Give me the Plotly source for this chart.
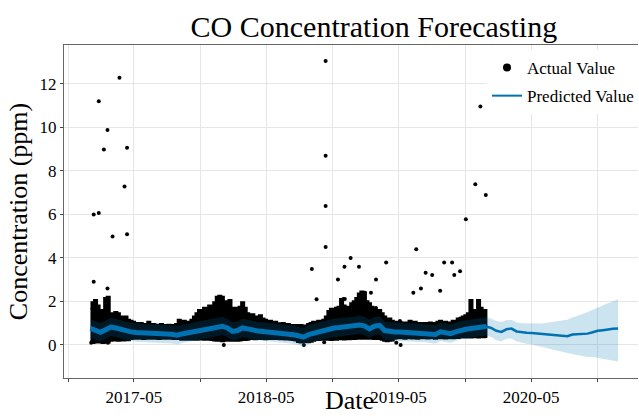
import pandas as pd
import plotly.graph_objects as go

# ---------------- data ----------------
# weekly envelope of the dense hourly observations (ppm)
week_start = "2017-01-01"
cloud_upper = [
    1.7, 1.95, 2.05, 1.8, 1.55, 1.6, 2.15, 2.2, 1.45, 1.35,
    1.5, 1.45, 1.3, 1.25, 1.3, 1.15, 1.1, 1.05, 1.0, 0.95,
    1.0, 0.92, 0.95, 1.05, 0.9, 0.95, 0.92, 0.88, 0.95, 0.9,
    0.88, 0.92, 0.9, 0.87, 0.95, 1.15, 1.05, 1.1, 1.0, 1.05,
    1.15, 1.3, 1.45, 1.6, 1.55, 1.7, 1.65, 1.8, 1.75, 1.95,
    2.2, 2.25, 2.2, 1.85, 2.0, 2.05, 1.65, 1.7, 1.6, 1.75,
    1.95, 1.7, 1.45, 1.35, 1.4, 1.3, 1.25, 1.35, 1.2, 1.15,
    1.05, 1.1, 1.0, 1.05, 0.98, 0.95, 1.0, 0.92, 0.95, 0.9,
    0.88, 0.9, 0.85, 0.9, 0.82, 0.88, 0.95, 1.0, 1.05, 1.0,
    1.1, 1.05, 1.15, 1.3, 1.55, 1.65, 1.6, 1.7, 1.75, 2.1,
    1.8, 1.7, 1.75, 1.9, 2.0, 2.15, 2.35, 2.45, 2.3, 2.0,
    1.9, 1.75, 1.65, 1.55, 1.6, 1.45, 1.3, 1.15, 1.2, 1.1,
    1.05, 1.0, 1.05, 1.0, 1.02, 0.98, 1.1, 1.0, 1.05, 0.98,
    1.0, 0.95, 1.0, 0.97, 1.02, 0.95, 1.0, 1.05, 1.1, 1.0,
    1.05, 1.02, 1.0, 1.1, 1.05, 1.2, 1.15, 1.3, 1.35, 1.45,
    2.05, 1.6, 1.5, 2.05, 1.7, 1.55, 1.6,
]
cloud_lower = [
    0.15, 0.1, 0.2, 0.12, 0.18, 0.1, 0.15, 0.12, 0.2,
    0.22, 0.25, 0.2, 0.24, 0.22, 0.25, 0.23,
    0.28, 0.3, 0.3, 0.32, 0.3, 0.28, 0.3, 0.3, 0.32, 0.3,
    0.3, 0.28, 0.3, 0.3, 0.3, 0.32, 0.3, 0.28, 0.3, 0.28,
    0.25, 0.27, 0.25, 0.26, 0.25, 0.27, 0.25, 0.28, 0.26, 0.25,
    0.27, 0.25, 0.24, 0.22,
    0.2, 0.22, 0.18, 0.2, 0.22, 0.2, 0.2, 0.22, 0.2, 0.22,
    0.25, 0.24, 0.25,
    0.28, 0.3, 0.27, 0.28, 0.3, 0.28, 0.27, 0.3, 0.28, 0.29,
    0.28, 0.3, 0.27, 0.28, 0.26, 0.28, 0.25, 0.24, 0.22,
    0.15, 0.12, 0.15, 0.18, 0.14, 0.16, 0.2,
    0.25, 0.24, 0.26, 0.25, 0.27, 0.25, 0.24, 0.26, 0.25, 0.27,
    0.28, 0.26, 0.28, 0.27, 0.29, 0.28,
    0.3, 0.31, 0.3, 0.32, 0.3, 0.31, 0.3, 0.29, 0.3, 0.28, 0.25,
    0.2, 0.18, 0.2, 0.22,
    0.3, 0.32, 0.33, 0.32, 0.3, 0.32, 0.33, 0.31, 0.32, 0.3,
    0.32, 0.33, 0.32, 0.31, 0.33, 0.32, 0.3, 0.32, 0.33, 0.32,
    0.31, 0.32, 0.33, 0.32, 0.34, 0.33,
    0.35, 0.36, 0.35, 0.37, 0.35, 0.36, 0.38, 0.35, 0.36, 0.37, 0.38,
]

# isolated high / low readings
outlier_dates = [
    "2017-01-10", "2017-01-10", "2017-01-24", "2017-01-24", "2017-02-07",
    "2017-02-17", "2017-02-17", "2017-03-03", "2017-03-22", "2017-04-05",
    "2017-04-12", "2017-04-12", "2017-01-03", "2017-02-18", "2018-01-04",
    "2018-08-13", "2018-09-04", "2018-09-17", "2018-10-12", "2018-10-12",
    "2018-10-12", "2018-10-12", "2018-10-08", "2018-11-15", "2018-11-30",
    "2018-12-03", "2018-12-04", "2018-12-20", "2019-01-12", "2019-01-29",
    "2019-02-14", "2019-02-28", "2019-02-28", "2019-03-28", "2019-04-25",
    "2019-05-05", "2019-05-07", "2019-06-11", "2019-06-19", "2019-07-02",
    "2019-07-15", "2019-08-02", "2019-08-24", "2019-09-04", "2019-09-26",
    "2019-10-02", "2019-10-18", "2019-10-18", "2019-11-03", "2019-11-29",
    "2019-12-13", "2019-12-28",
]
outlier_values = [
    6.0, 2.9, 6.07, 11.2, 8.98,
    9.88, 2.6, 4.99, 12.28, 7.29,
    9.07, 5.09, 0.1, 0.1, 0.0,
    0.0, 3.49, 2.1, 13.06, 8.7,
    6.39, 4.5, 0.12, 3.01, 2.11,
    3.59, 2.11, 4.0, 3.59, 2.4,
    2.4, 3.01, 1.7, 3.79, 0.1,
    1.1, 0.0, 2.4, 4.4, 2.6,
    3.32, 3.21, 2.49, 3.79, 3.79,
    3.21, 3.39, 1.22, 5.78, 7.39,
    10.96, 6.89,
]

# Prophet-style forecast on a 14-day grid (history + 1-year horizon)
grid_start = "2017-01-01"
history_points = 79
yhat = [
    0.76, 0.65, 0.58, 0.70, 0.82, 0.78, 0.70, 0.64, 0.60, 0.57,
    0.55, 0.53, 0.52, 0.50, 0.50, 0.50, 0.49, 0.45, 0.50, 0.55,
    0.60, 0.66, 0.70, 0.74, 0.78, 0.82, 0.86, 0.78, 0.62, 0.66,
    0.78, 0.74, 0.68, 0.64, 0.62, 0.60, 0.57, 0.54, 0.52, 0.50,
    0.47, 0.42, 0.36, 0.48, 0.55, 0.60, 0.68, 0.74, 0.78, 0.80,
    0.83, 0.86, 0.88, 0.92, 0.88, 0.74, 0.86, 0.90, 0.66, 0.62,
    0.60, 0.60, 0.58, 0.57, 0.57, 0.55, 0.54, 0.52, 0.48, 0.60,
    0.55, 0.52, 0.60, 0.68, 0.72, 0.76, 0.79, 0.82, 0.85,
    0.78, 0.65, 0.60, 0.72, 0.75, 0.62, 0.58, 0.56, 0.55, 0.53,
    0.50, 0.48, 0.45, 0.44, 0.42, 0.40, 0.48, 0.50, 0.50, 0.52,
    0.58, 0.65, 0.68, 0.72, 0.74, 0.76,
]
yhat_upper = [
    1.18, 1.08, 1.00, 1.12, 1.25, 1.20, 1.12, 1.06, 1.02, 0.99,
    0.97, 0.95, 0.94, 0.92, 0.93, 0.92, 0.91, 0.87, 0.92, 0.97,
    1.02, 1.08, 1.12, 1.16, 1.20, 1.24, 1.28, 1.20, 1.04, 1.08,
    1.20, 1.16, 1.10, 1.06, 1.04, 1.02, 0.99, 0.96, 0.94, 0.92,
    0.89, 0.84, 0.78, 0.90, 0.97, 1.02, 1.10, 1.16, 1.20, 1.22,
    1.25, 1.28, 1.30, 1.34, 1.30, 1.16, 1.28, 1.32, 1.08, 1.04,
    1.02, 1.02, 1.00, 0.99, 0.99, 0.97, 0.96, 0.94, 0.90, 1.02,
    0.97, 0.94, 1.02, 1.10, 1.14, 1.18, 1.21, 1.24, 1.27,
    1.20, 1.10, 1.05, 1.14, 1.15, 1.03, 1.00, 0.99, 0.99, 0.98,
    0.99, 1.02, 1.05, 1.08, 1.12, 1.16, 1.26, 1.33, 1.42, 1.52,
    1.62, 1.74, 1.82, 1.92, 2.00, 2.10,
]
yhat_lower = [
    0.34, 0.23, 0.16, 0.28, 0.40, 0.36, 0.28, 0.22, 0.18, 0.15,
    0.13, 0.11, 0.10, 0.08, 0.08, 0.08, 0.07, 0.03, 0.08, 0.13,
    0.18, 0.24, 0.28, 0.32, 0.36, 0.40, 0.44, 0.36, 0.20, 0.24,
    0.36, 0.32, 0.26, 0.22, 0.20, 0.18, 0.15, 0.12, 0.10, 0.08,
    0.05, 0.00, -0.06, 0.06, 0.13, 0.18, 0.26, 0.32, 0.36, 0.38,
    0.41, 0.44, 0.46, 0.50, 0.46, 0.32, 0.44, 0.48, 0.24, 0.20,
    0.18, 0.18, 0.16, 0.15, 0.15, 0.13, 0.12, 0.10, 0.06, 0.18,
    0.13, 0.10, 0.18, 0.26, 0.30, 0.34, 0.37, 0.40, 0.43,
    0.36, 0.22, 0.16, 0.28, 0.30, 0.16, 0.10, 0.06, 0.02, -0.02,
    -0.08, -0.13, -0.19, -0.25, -0.31, -0.37, -0.40, -0.46, -0.51, -0.55,
    -0.56, -0.58, -0.62, -0.66, -0.72, -0.76,
]

x_major = ["2017-05-01", "2018-05-01", "2019-05-01", "2020-05-01"]
x_minor = ["2016-11-01", "2017-11-01", "2018-11-01", "2019-11-01", "2020-11-01"]
x_major_labels = ["2017-05", "2018-05", "2019-05", "2020-05"]
y_ticks = [0, 2, 4, 6, 8, 10, 12]

# ---------------- build ----------------
weeks = list(pd.date_range(week_start, periods=len(cloud_upper), freq="7D"))
grid = list(pd.date_range(grid_start, periods=len(yhat), freq="14D"))
hist_grid = grid[:history_points]
fc_grid = grid[history_points - 1:]

BLUE = "#0072B2"
FONT = "Liberation Serif"

fig = go.Figure()

# dense observation cloud
fig.add_trace(go.Scatter(
    x=weeks + weeks[::-1], y=cloud_upper + cloud_lower[::-1],
    fill="toself", fillcolor="black", mode="lines",
    line=dict(color="black", width=2.5, shape="hvh"),
    showlegend=False, hoverinfo="skip"))
# isolated points
fig.add_trace(go.Scatter(
    x=outlier_dates, y=outlier_values, mode="markers",
    marker=dict(color="black", size=4), showlegend=False))
# predicted values
fig.add_trace(go.Scatter(
    x=hist_grid, y=yhat[:history_points], mode="lines",
    line=dict(color=BLUE, width=5), showlegend=False))
fig.add_trace(go.Scatter(
    x=fc_grid, y=yhat[history_points - 1:], mode="lines",
    line=dict(color=BLUE, width=2.5), showlegend=False))
# uncertainty interval
fig.add_trace(go.Scatter(
    x=grid + grid[::-1], y=yhat_upper + yhat_lower[::-1],
    fill="toself", fillcolor="rgba(0,114,178,0.2)", mode="lines",
    line=dict(width=0), showlegend=False, hoverinfo="skip"))

# legend entries
fig.add_trace(go.Scatter(x=[None], y=[None], mode="markers",
                         marker=dict(color="black", size=8),
                         name="Actual Value", legendgroup="a"))
fig.add_trace(go.Scatter(x=[None], y=[None], mode="lines",
                         line=dict(color=BLUE, width=2),
                         name="Predicted Value", legendgroup="b"))

tickvals = sorted(x_minor + x_major)
ticktext = [x_major_labels[x_major.index(v)] if v in x_major else "" for v in tickvals]

fig.update_layout(
    width=639, height=416,
    margin=dict(l=64, r=0, t=45, b=38),
    paper_bgcolor="white", plot_bgcolor="white",
    font=dict(family=FONT, color="black", size=17),
    title=dict(text="CO Concentration Forecasting", font=dict(size=30, family=FONT),
               x=345 / 639, xanchor="center", xref="paper",
               y=1 - 26 / 416, yanchor="middle", yref="container"),
    legend=dict(x=0.737, y=0.985, xanchor="left", yanchor="top",
                bgcolor="white", borderwidth=0, font=dict(size=17, family=FONT),
                tracegroupgap=3),
    showlegend=True,
    annotations=[dict(text="Date", xref="paper", yref="paper",
                      x=(350 - 64) / 575, y=-(416 - 378) / 333,
                      xanchor="center", yanchor="bottom", showarrow=False,
                      height=26, valign="bottom", borderpad=0,
                      font=dict(size=26, family=FONT, color="black"))],
)
fig.update_xaxes(
    type="date", range=["2016-10-20", "2021-02-20"], automargin=False,
    tickmode="array", tickvals=tickvals, ticktext=ticktext,
    showgrid=True, gridcolor="#e6e6e6", gridwidth=1,
    showline=True, linecolor="#666666", linewidth=1.2, mirror=True,
    ticks="outside", ticklen=3, tickcolor="#444444",
    tickfont=dict(size=17, family=FONT),
    zeroline=False,
)
fig.update_yaxes(
    range=[-1.52, 13.79], tickmode="array", tickvals=y_ticks, automargin=False,
    showgrid=True, gridcolor="#e6e6e6", gridwidth=1,
    showline=True, linecolor="#666666", linewidth=1.2,
    ticks="outside", ticklen=3, tickcolor="#444444",
    tickfont=dict(size=17, family=FONT),
    title=dict(text="Concentration (ppm)", font=dict(size=26, family=FONT), standoff=4),
    zeroline=False,
)

fig.write_html("out.html")
